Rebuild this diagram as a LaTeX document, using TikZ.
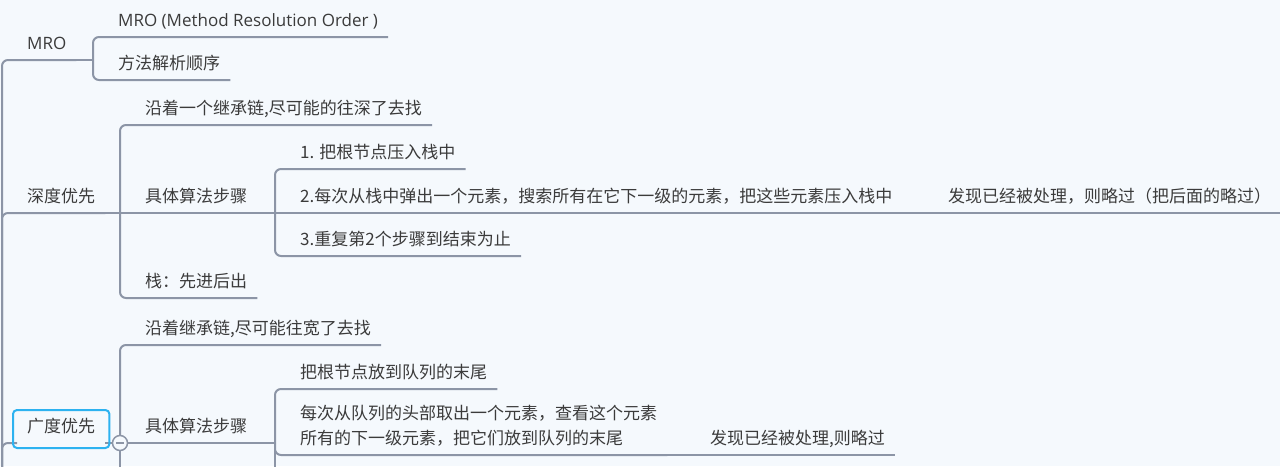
\documentclass[tikz,border=0pt]{standalone}
\usepackage{fontspec}
\setmainfont{Noto Sans CJK SC}
\newfontfamily\latinfont{Open Sans}
\usepackage{tikz}
\usetikzlibrary{calc}

\definecolor{bgcol}{HTML}{F5F9FD}
\definecolor{linecol}{HTML}{8C95A6}
\definecolor{textcol}{HTML}{3B3B3B}
\definecolor{selcol}{HTML}{2DB2F0}

\tikzset{
  topic/.style={anchor=south west, inner xsep=10pt, inner ysep=0pt, text depth=10.5pt,
    text=textcol, align=left, font=\fontsize{17}{25}\selectfont},
  link/.style={draw=linecol, line width=2pt, rounded corners=6pt},
  selbox/.style={draw=selcol, line width=2pt, rounded corners=4pt},
  toggle/.style={circle, draw=linecol, fill=bgcol, line width=1.5pt, minimum size=15pt, inner sep=0pt,
    path picture={\draw [linecol, line width=1.5pt] ([xshift=-4pt]path picture bounding box.center)
      -- ([xshift=4pt]path picture bounding box.center);}},
}

\begin{document}
\begin{tikzpicture}[x=1pt,y=-1pt]
    \useasboundingbox[fill=bgcol] (0,0) rectangle (1280,466);
    \clip (0,0) rectangle (1280,466);

    % topics
    \node [topic] (mro) at (17,60) {\latinfont MRO};
    \node [topic] (dfs) at (17,213) {深度优先};
    \node [topic] (bfs) at (17,443) {广度优先};

    \node [topic] (mroname) at (108,37) {\latinfont MRO (Method Resolution Order )};
    \node [topic] (mrocn) at (108,80) {方法解析顺序};

    \node [topic] (dfsidea) at (135,125) {沿着一个继承链,尽可能的往深了去找};
    \node [topic] (dfsalgo) at (135,213) {具体算法步骤};
    \node [topic] (dfsstack) at (135,298) {栈：先进后出};
    \node [topic] (dfsstep1) at (290,169) {1. 把根节点压入栈中};
    \node [topic] (dfsstep2) at (290,213) {2.每次从栈中弹出一个元素，搜索所有在它下一级的元素，把这些元素压入栈中};
    \node [topic] (dfsstep3) at (290,256) {3.重复第2个步骤到结束为止};
    \node [topic] (dfsskip) at (938,213) {发现已经被处理，则略过（把后面的略过）};

    \node [topic] (bfsidea) at (135,345) {沿着继承链,尽可能往宽了去找};
    \node [topic] (bfsalgo) at (135,443) {具体算法步骤};
    \node [topic] (bfsstep1) at (290,389) {把根节点放到队列的末尾};
    \node [topic] (bfsstep2) at (290,455) {每次从队列的头部取出一个元素，查看这个元素\\所有的下一级元素，把它们放到队列的末尾};
    \node [topic] (bfsskip) at (700,455) {发现已经被处理,则略过};

    % forks
    \coordinate (root) at (2,520);
    \coordinate (mrofork) at (93,60);
    \coordinate (dfsfork) at (120,213);
    \coordinate (dfsalgofork) at (275,213);
    \coordinate (bfsfork) at (120,443);
    \coordinate (bfsalgofork) at (275,443);
    \coordinate (bfsmore) at (120,500);
    \coordinate (bfsalgomore) at (275,500);

    \draw [link] (root) |- (mro.south east);
    \draw [link] (root) |- (dfs.south east);
    \draw [link] (root) |- (bfs.south west);

    \draw [link] (mro.south east) -- (mrofork);
    \draw [link] (mrofork) |- (mroname.south east);
    \draw [link] (mrofork) |- (mrocn.south east);

    \draw [link] (dfs.south east) -- (dfsalgo.south east);
    \draw [link] (dfsfork) |- (dfsidea.south east);
    \draw [link] (dfsfork) |- (dfsstack.south east);
    \draw [link] (dfsalgo.south east) -- (dfsstep2.south east);
    \draw [link] (dfsalgofork) |- (dfsstep1.south east);
    \draw [link] (dfsalgofork) |- (dfsstep3.south east);
    \draw [link] (dfsstep2.south east) -- (dfsskip.south east);

    \draw [link] (bfs.south east) -- (bfsalgo.south east);
    \draw [link] (bfsfork) |- (bfsidea.south east);
    \draw [link] (bfsfork) -- (bfsmore);
    \draw [link] (bfsalgo.south east) -- (bfsalgofork);
    \draw [link] (bfsalgofork) |- (bfsstep1.south east);
    \draw [link] (bfsalgofork) |- (bfsstep2.south east);
    \draw [link] (bfsalgofork) -- (bfsalgomore);
    \draw [link] (bfsstep2.south east) -- (bfsskip.south east);

    % selection and collapse mark
    \draw [selbox] ($(bfs.south west)+(-4,5)$) rectangle ($(bfs.south east)+(4,-33)$);
    \node [toggle] (bfstoggle) at (bfsfork) {};
\end{tikzpicture}
\end{document}
